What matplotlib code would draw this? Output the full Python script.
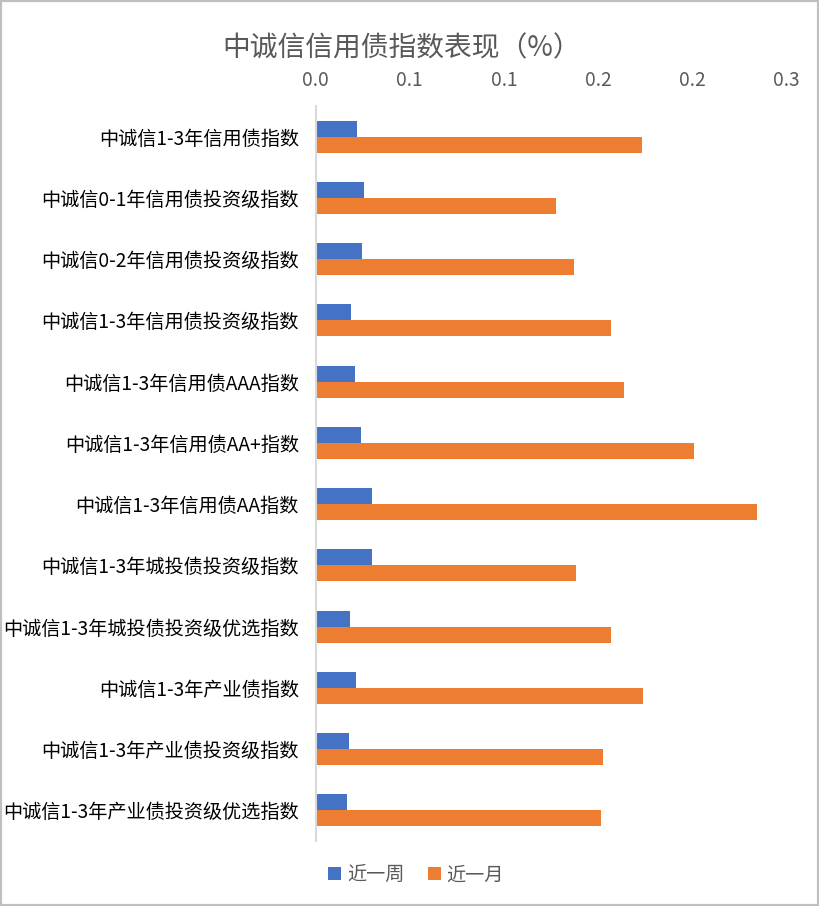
import numpy as np
import matplotlib
matplotlib.use("Agg")
import matplotlib.pyplot as plt
from matplotlib.ticker import FuncFormatter
from matplotlib.patches import Rectangle

plt.rcParams['font.family'] = ['Noto Sans CJK SC', 'DejaVu Sans']

# data
categories = ['中诚信1-3年信用债指数', '中诚信0-1年信用债投资级指数', '中诚信0-2年信用债投资级指数',
              '中诚信1-3年信用债投资级指数', '中诚信1-3年信用债AAA指数', '中诚信1-3年信用债AA+指数',
              '中诚信1-3年信用债AA指数', '中诚信1-3年城投债投资级指数', '中诚信1-3年城投债投资级优选指数',
              '中诚信1-3年产业债指数', '中诚信1-3年产业债投资级指数', '中诚信1-3年产业债投资级优选指数']
week = [0.0220, 0.0257, 0.0246, 0.0188, 0.0209, 0.0241, 0.0299, 0.0299, 0.0183, 0.0214, 0.0177, 0.0165]
month = [0.1732, 0.1276, 0.1372, 0.1568, 0.1637, 0.2008, 0.2341, 0.1383, 0.1568, 0.1738, 0.1525, 0.1513]
series_names = ['近一周', '近一月']
title = '中诚信信用债指数表现（%）'

grey = '#595959'
fig = plt.figure(figsize=(8.19, 9.06), dpi=100)
ax = fig.add_axes([0.3853, 0.0717, 0.5751, 0.8113])

y = np.arange(len(categories))
h = 0.26
ax.barh(y - h / 2, week, height=h, color='#4472C4', label=series_names[0])
ax.barh(y + h / 2, month, height=h, color='#ED7D31', label=series_names[1])

ax.set_ylim(len(categories) - 0.5, -0.5)
ax.set_xlim(0, 0.25)
ax.set_xticks(np.arange(0, 0.2501, 0.05))
# excel style: one decimal, half rounded up
ax.xaxis.set_major_formatter(FuncFormatter(lambda v, p: '%.1f' % (np.floor(v * 10 + 0.5 + 1e-9) / 10)))
ax.xaxis.tick_top()
ax.set_yticks(y)
ax.set_yticklabels(categories)
ax.tick_params(axis='both', length=0, labelsize=13.8, colors=grey)
ax.tick_params(axis='x', pad=11)
ax.tick_params(axis='y', pad=12)
for lab in ax.get_yticklabels():
    lab.set_color('black')

for s in ['top', 'right', 'bottom']:
    ax.spines[s].set_visible(False)
ax.spines['left'].set_color('#d9d9d9')
ax.spines['left'].set_linewidth(1.5)

fig.text(0.49, 0.947, title, ha='center', va='center', fontsize=20, color=grey)

fig.legend(loc='center', bbox_to_anchor=(0.508, 0.0345), ncol=2, frameon=False,
           fontsize=13.8, handlelength=0.7, handleheight=0.7, handletextpad=0.3,
           columnspacing=1.2, labelcolor=grey)

fig.patches.append(Rectangle((0, 0), 1, 1, transform=fig.transFigure, fill=False,
                             edgecolor='#bfbfbf', linewidth=3))

fig.savefig('out.png', dpi=100)
